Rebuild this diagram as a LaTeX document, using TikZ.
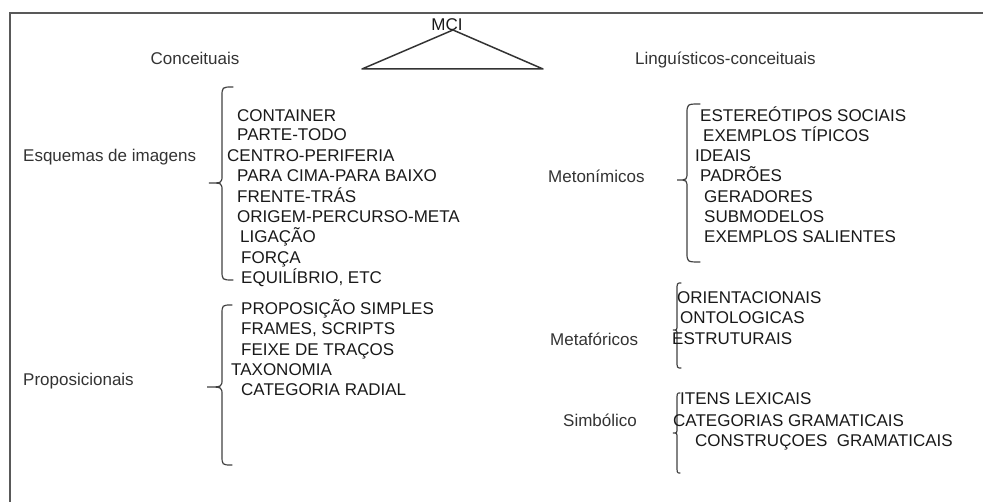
\documentclass[tikz,border=0pt]{standalone}
\usepackage{fontspec}
\setmainfont{Liberation Sans}
\usetikzlibrary{positioning}

\begin{document}
\begin{tikzpicture}[x=1pt, y=-1pt,
    rotulo/.style={anchor=west, inner sep=0pt, text height=12.2pt, text depth=0pt, text=black!80, font=\fontsize{17}{20}\selectfont},
    item/.style={anchor=west, inner sep=0pt, text height=12.2pt, text depth=0pt, text=black!90, font=\fontsize{17}{20}\selectfont},
    chave/.style={draw=black!75, line width=1.2pt, line cap=round}]

        \useasboundingbox (0,0) rectangle (983,502);

        % moldura
        \draw[black!65, line width=2pt] (10,502) -- (10,13) -- (983,13);

        % topo
        \node[item, anchor=center] (mci) at (447,24) {MCI};
        \coordinate (apice) at (453,30);
        \coordinate (baseE) at (362,69);
        \coordinate (baseD) at (543,69);
        \draw[black!80, line width=1.5pt, line join=round] (apice) -- (baseE) -- (baseD) -- cycle;
        \node[rotulo, anchor=center] (conc) at (195,58) {Conceituais};
        \node[rotulo] (ling) at (635,58) {Linguísticos-conceituais};

        % esquemas de imagens
        \node[rotulo] (esq) at (23,155) {Esquemas de imagens};
        \draw[chave] (233,87) .. controls (222,87) .. (222,97) -- (222,175) .. controls (222,183) .. (209,183)
            .. controls (222,183) .. (222,191) -- (222,270) .. controls (222,280) .. (233,280);
        \node[item] (e1) at (237,115) {CONTAINER};
        \node[item] (e2) at (237,134) {PARTE-TODO};
        \node[item] (e3) at (227,155) {CENTRO-PERIFERIA};
        \node[item] (e4) at (237,175) {PARA CIMA-PARA BAIXO};
        \node[item] (e5) at (237,196) {FRENTE-TRÁS};
        \node[item] (e6) at (237,216) {ORIGEM-PERCURSO-META};
        \node[item] (e7) at (240,236) {LIGAÇÃO};
        \node[item] (e8) at (241,257) {FORÇA};
        \node[item] (e9) at (241,277) {EQUILÍBRIO, ETC};

        % proposicionais
        \node[rotulo] (prop) at (23,379) {Proposicionais};
        \draw[chave] (232,305) .. controls (222,305) .. (222,315) -- (222,379) .. controls (222,387) .. (207,387)
            .. controls (222,387) .. (222,395) -- (222,455) .. controls (222,465) .. (232,465);
        \node[item] (p1) at (241,308) {PROPOSIÇÃO SIMPLES};
        \node[item] (p2) at (241,328) {FRAMES, SCRIPTS};
        \node[item] (p3) at (241,349) {FEIXE DE TRAÇOS};
        \node[item] (p4) at (231,369) {TAXONOMIA};
        \node[item] (p5) at (241,389) {CATEGORIA RADIAL};

        % metonimicos
        \node[rotulo] (meto) at (548,176) {Metonímicos};
        \draw[chave] (700,104) .. controls (687,104) .. (687,114) -- (687,172) .. controls (687,180) .. (677,180)
            .. controls (687,180) .. (687,188) -- (687,252) .. controls (687,262) .. (700,262);
        \node[item] (m1) at (700,115) {ESTEREÓTIPOS SOCIAIS};
        \node[item] (m2) at (703,135) {EXEMPLOS TÍPICOS};
        \node[item] (m3) at (695,155) {IDEAIS};
        \node[item] (m4) at (700,175) {PADRÕES};
        \node[item] (m5) at (704,196) {GERADORES};
        \node[item] (m6) at (704,216) {SUBMODELOS};
        \node[item] (m7) at (704,236) {EXEMPLOS SALIENTES};

        % metaforicos
        \node[rotulo] (meta) at (550,339) {Metafóricos};
        \draw[chave] (681,283) .. controls (677,283) .. (677,291) -- (677,325) .. controls (677,330) .. (673,330)
            .. controls (677,330) .. (677,335) -- (677,360) .. controls (677,368) .. (681,368);
        \node[item] (f1) at (677,297) {ORIENTACIONAIS};
        \node[item] (f2) at (680,317) {ONTOLOGICAS};
        \node[item] (f3) at (672,338) {ESTRUTURAIS};

        % simbolico
        \node[rotulo] (simb) at (563,420) {Simbólico};
        \draw[chave] (680,393) .. controls (677,393) .. (677,401) -- (677,428) .. controls (677,433) .. (673,433)
            .. controls (677,433) .. (677,438) -- (677,465) .. controls (677,473) .. (680,473);
        \node[item] (s1) at (680,398) {ITENS LEXICAIS};
        \node[item] (s2) at (673,420) {CATEGORIAS GRAMATICAIS};
        \node[item] (s3) at (695,440) {CONSTRUÇOES\ \ GRAMATICAIS};
    \end{tikzpicture}
\end{document}
